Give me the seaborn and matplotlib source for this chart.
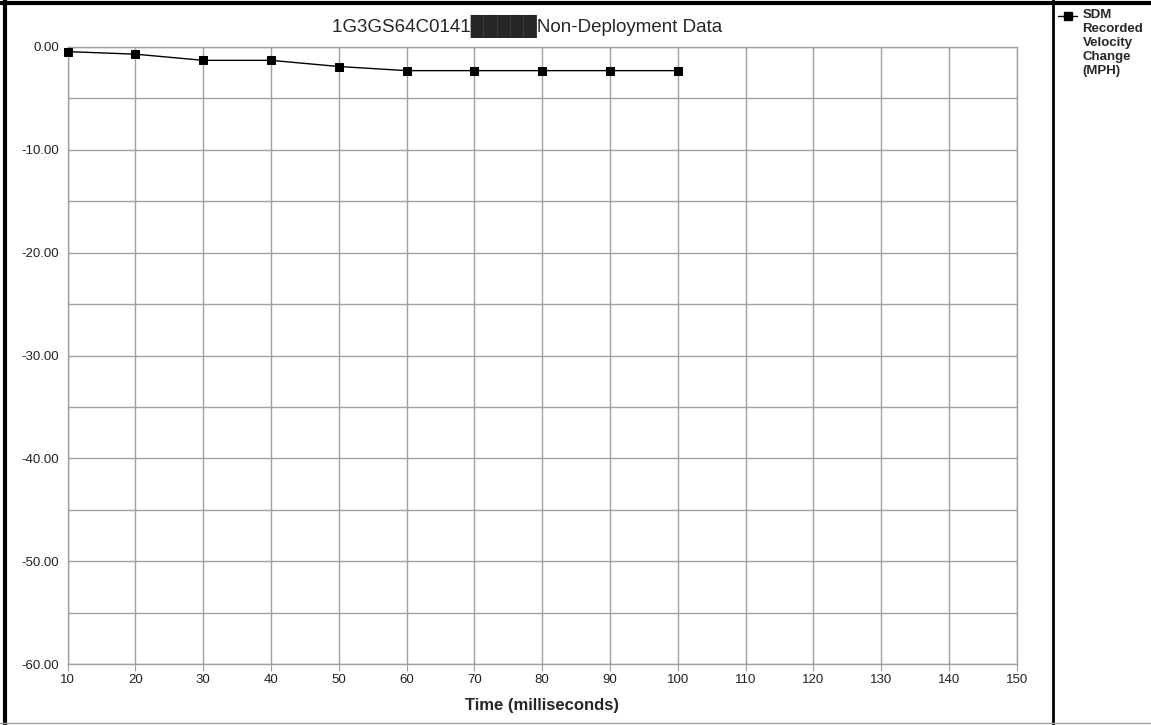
import matplotlib
matplotlib.use("Agg")
import matplotlib.pyplot as plt
import seaborn as sns
import pandas as pd
from matplotlib.lines import Line2D
from matplotlib.ticker import MultipleLocator, FormatStrFormatter

time_ms = [10, 20, 30, 40, 50, 60, 70, 80, 90, 100]
velocity_change = [-0.45, -0.7, -1.3, -1.3, -1.9, -2.3, -2.3, -2.3, -2.3, -2.3]
title_text = "1G3GS64C0141\u2588\u2588\u2588\u2588\u2588Non-Deployment Data"
legend_label = "SDM\nRecorded\nVelocity\nChange\n(MPH)"
x_label = "Time (milliseconds)"

sns.set_style("white")
plt.rcParams['font.family'] = ['Liberation Sans', 'DejaVu Sans']

df = pd.DataFrame({"t": time_ms, "v": velocity_change})

fig = plt.figure(figsize=(11.51, 7.25), dpi=100)
ax = fig.add_axes([0.0588, 0.0841, 0.8245, 0.8511])

sns.lineplot(data=df, x="t", y="v", ax=ax, color="black", linewidth=1,
             marker="s", markersize=6, markeredgecolor="black", zorder=3)
for ln in ax.lines:
    ln.set_clip_on(False)

ax.set_xlim(10, 150)
ax.set_ylim(-60, 0)
ax.xaxis.set_major_locator(MultipleLocator(10))
ax.yaxis.set_major_locator(MultipleLocator(10))
ax.yaxis.set_minor_locator(MultipleLocator(5))
ax.yaxis.set_major_formatter(FormatStrFormatter("%.2f"))
ax.grid(True, which="both", color="#a0a0a0", linewidth=1)
ax.set_axisbelow(True)
for s in ax.spines.values():
    s.set_color("#a0a0a0")
    s.set_linewidth(1)
ax.tick_params(axis="x", which="major", length=5, color="#a0a0a0", labelsize=9.5, pad=2,
               labelcolor="#222222", direction="out", bottom=True)
ax.tick_params(axis="y", which="both", length=0, labelsize=9.5, pad=6, labelcolor="#222222")
ax.set_xlabel(x_label, fontsize=12, fontweight="bold", labelpad=9)
ax.set_ylabel("")
fig.text(0.458, 0.964, title_text, ha="center", va="center", fontsize=13.5)

# legend
fig.add_artist(Line2D([0.9190, 0.9355], [0.9780, 0.9780], color="black", linewidth=1,
                      transform=fig.transFigure))
fig.add_artist(Line2D([0.9275], [0.9780], color="black", marker="s", markersize=6,
                      linestyle="none", transform=fig.transFigure))
fig.text(0.9405, 0.987, legend_label, ha="left", va="top", fontsize=9.5,
         fontweight="bold", linespacing=1.2)

# frame lines
fig.add_artist(Line2D([0.004, 0.004], [0, 1], color="black", linewidth=3, transform=fig.transFigure))
fig.add_artist(Line2D([0, 1], [0.996, 0.996], color="black", linewidth=3, transform=fig.transFigure))
fig.add_artist(Line2D([0.9145, 0.9145], [0, 1], color="black", linewidth=2, transform=fig.transFigure))
fig.add_artist(Line2D([0, 1], [0.003, 0.003], color="#a0a0a0", linewidth=1, transform=fig.transFigure))

fig.savefig("out.png", dpi=100, facecolor="white")
